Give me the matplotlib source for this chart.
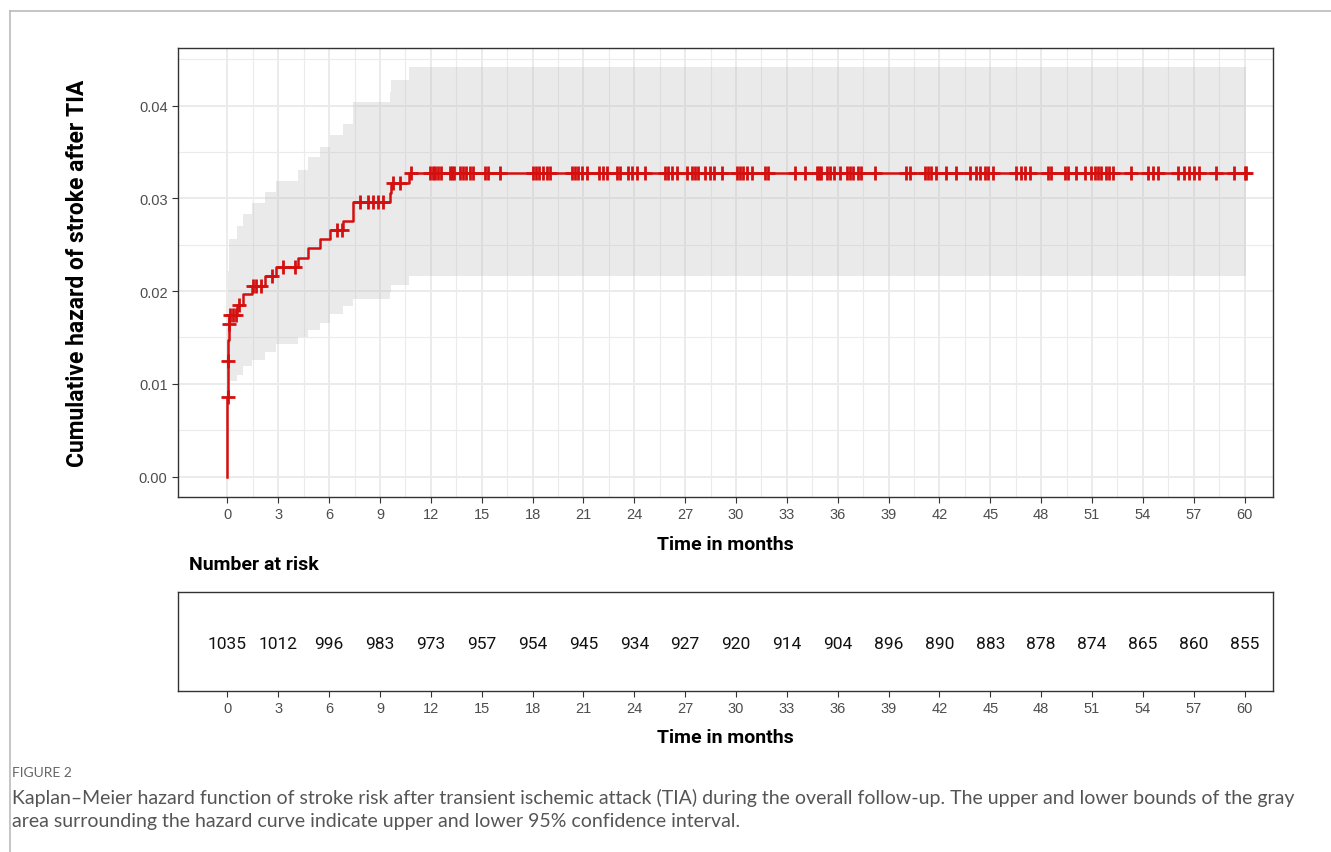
"""Kaplan-Meier cumulative hazard of stroke after TIA, with number-at-risk table."""
import matplotlib
matplotlib.use("Agg")
import matplotlib.pyplot as plt
import numpy as np

# step curve: event times (months), cumulative hazard and 95% CI bounds
event_t = [0.0, 0.01, 0.03, 0.06, 0.10, 0.55, 0.93, 1.42, 2.20, 2.85,
           4.13, 4.72, 5.45, 6.04, 6.83, 7.38, 9.59, 9.65, 10.73]
cumhaz = [0.0086, 0.0125, 0.0147, 0.0165, 0.0174, 0.0185, 0.0197, 0.0205,
          0.0216, 0.0226, 0.0236, 0.0246, 0.0256, 0.0266, 0.0276, 0.0296,
          0.0306, 0.0316, 0.0327]
ci_low = [0.0045, 0.0075, 0.0094, 0.0100, 0.0103, 0.0110, 0.0119, 0.0126,
          0.0134, 0.0143, 0.0151, 0.0158, 0.0166, 0.0175, 0.0184, 0.0191,
          0.0199, 0.0207, 0.0216]
ci_high = [0.0160, 0.0205, 0.0222, 0.0236, 0.0256, 0.0270, 0.0283, 0.0295,
           0.0307, 0.0319, 0.0331, 0.0344, 0.0355, 0.0368, 0.0380, 0.0404,
           0.0415, 0.0428, 0.0441]
end_t = 60.1

# censoring times (months)
censor_t = [0.005, 0.02, 0.08, 0.12, 0.33, 0.49, 0.69, 1.52, 1.71, 2.0, 2.6,
            3.29, 3.98, 6.44, 6.73, 7.81, 8.31, 8.6, 8.9, 9.19, 9.78, 10.18,
            10.8, 11.96, 12.12, 12.26, 12.39, 12.59, 13.10, 13.24, 13.38,
            13.69, 13.89, 14.08, 14.28, 14.48, 15.20, 15.36, 16.09, 18.05,
            18.21, 18.35, 18.64, 18.84, 19.0, 20.31, 20.51, 20.70, 20.90,
            21.23, 21.94, 22.14, 22.37, 22.96, 23.16, 23.65, 23.85, 24.14,
            24.63, 25.81, 26.0, 26.2, 26.5, 27.09, 27.38, 27.58, 27.77, 28.17,
            28.46, 28.70, 29.15, 30.03, 30.23, 30.43, 30.62, 30.92, 31.70,
            31.90, 33.47, 34.06, 34.75, 34.90, 35.04, 35.34, 35.53, 35.77,
            36.12, 36.52, 36.71, 36.91, 37.20, 37.40, 38.18, 40.05, 40.25,
            41.13, 41.33, 41.52, 41.82, 42.41, 43.0, 43.78, 44.14, 44.37,
            44.67, 44.86, 45.16, 46.53, 46.83, 47.02, 47.32, 48.40, 48.60,
            49.38, 49.58, 50.07, 50.56, 50.95, 51.15, 51.34, 51.54, 51.84,
            52.03, 52.23, 53.31, 54.29, 54.59, 54.88, 56.06, 56.45, 56.75,
            57.04, 57.34, 58.32, 59.40, 60.0, 60.1]

risk_t = list(range(0, 61, 3))
at_risk = [1035, 1012, 996, 983, 973, 957, 954, 945, 934, 927, 920, 914,
           904, 896, 890, 883, 878, 874, 865, 860, 855]

RED = "#D40F0F"
GRID = "#EBEBEB"
TICKC = "#4D4D4D"
XLIM = (-2.92, 61.68)

fig = plt.figure(figsize=(13.31, 8.53), dpi=100)

# outer frame lines (left and top)
fig.add_artist(plt.Line2D([10 / 1331, 10 / 1331], [0, 1 - 12 / 853],
                          color="#BBBBBB", lw=1.2))
fig.add_artist(plt.Line2D([10 / 1331, 1], [1 - 12 / 853, 1 - 12 / 853],
                          color="#BBBBBB", lw=1.2))


def style_axes(ax):
    ax.set_xlim(*XLIM)
    ax.set_xticks(risk_t)
    ax.tick_params(axis="both", colors="#333333", labelcolor=TICKC,
                   labelsize=10.5, length=4, width=0.8)
    for lab in ax.get_xticklabels() + ax.get_yticklabels():
        lab.set_fontfamily("Liberation Sans")
    for sp in ax.spines.values():
        sp.set_color("#333333")
        sp.set_linewidth(1.0)


# main panel
ax = fig.add_axes([178 / 1331, 1 - 498 / 853, 1095 / 1331, 449 / 853])
ax.set_axisbelow(True)
for x in np.arange(0, 61, 1.5):
    ax.axvline(x, color=GRID, lw=1.4 if x % 3 == 0 else 0.8, zorder=0)
for y in np.arange(0, 0.0461, 0.005):
    ax.axhline(y, color=GRID, lw=1.4 if round(y * 1000) % 10 == 0 else 0.8,
               zorder=0)

tt = np.array(event_t + [end_t])
lo = np.array(ci_low + [ci_low[-1]])
hi = np.array(ci_high + [ci_high[-1]])
ch = np.array(cumhaz + [cumhaz[-1]])
ax.fill_between(tt, lo, hi, step="post", color="#BBBBBB", alpha=0.3, lw=0,
                zorder=1)
ax.step(np.r_[0.0, tt], np.r_[0.0, ch], where="post", color=RED, lw=1.8,
        zorder=2)
ct = np.array(censor_t)
cv = ch[np.searchsorted(tt, ct, side="right") - 1]
ax.plot(ct, cv, ls="none", marker="+", ms=10, mew=2.0, color=RED, zorder=3)

ax.set_ylim(-0.0022, 0.0462)
ax.set_yticks([0.0, 0.01, 0.02, 0.03, 0.04])
ax.set_yticklabels(["0.00", "0.01", "0.02", "0.03", "0.04"])
style_axes(ax)
ax.set_xlabel("Time in months", fontsize=14, fontweight="bold",
              family="Roboto", labelpad=10)
ax.set_ylabel("Cumulative hazard of stroke after TIA", fontsize=16.5,
              fontweight="bold", family="Roboto", labelpad=36)

# number at risk table
fig.text(189 / 1331, 1 - 565 / 853, "Number at risk", fontsize=14,
         fontweight="bold", family="Roboto", va="center", ha="left")
rx = fig.add_axes([178 / 1331, 1 - 692 / 853, 1095 / 1331, 99 / 853])
rx.set_ylim(0, 1)
rx.set_yticks([])
for t, n in zip(risk_t, at_risk):
    rx.text(t, 0.48, str(n), ha="center", va="center", fontsize=12.5,
            family="Roboto", color="#111111")
style_axes(rx)
rx.set_xlabel("Time in months", fontsize=14, fontweight="bold",
              family="Roboto", labelpad=9)

# caption
cap_font = ["Lato", "DejaVu Sans"]
fig.text(12 / 1331, 1 - 773 / 853, "FIGURE 2", fontsize=10, color="#666666",
         family=cap_font, va="center", ha="left")
fig.text(12 / 1331, 1 - 798 / 853,
         "Kaplan\u2013Meier hazard function of stroke risk after transient "
         "ischemic attack (TIA) during the overall follow-up. The upper and "
         "lower bounds of the gray", fontsize=14, color="#555555",
         family=cap_font, va="center", ha="left")
fig.text(12 / 1331, 1 - 822 / 853,
         "area surrounding the hazard curve indicate upper and lower 95% "
         "confidence interval.", fontsize=14, color="#555555",
         family=cap_font, va="center", ha="left")

fig.savefig("out.png", dpi=100)
